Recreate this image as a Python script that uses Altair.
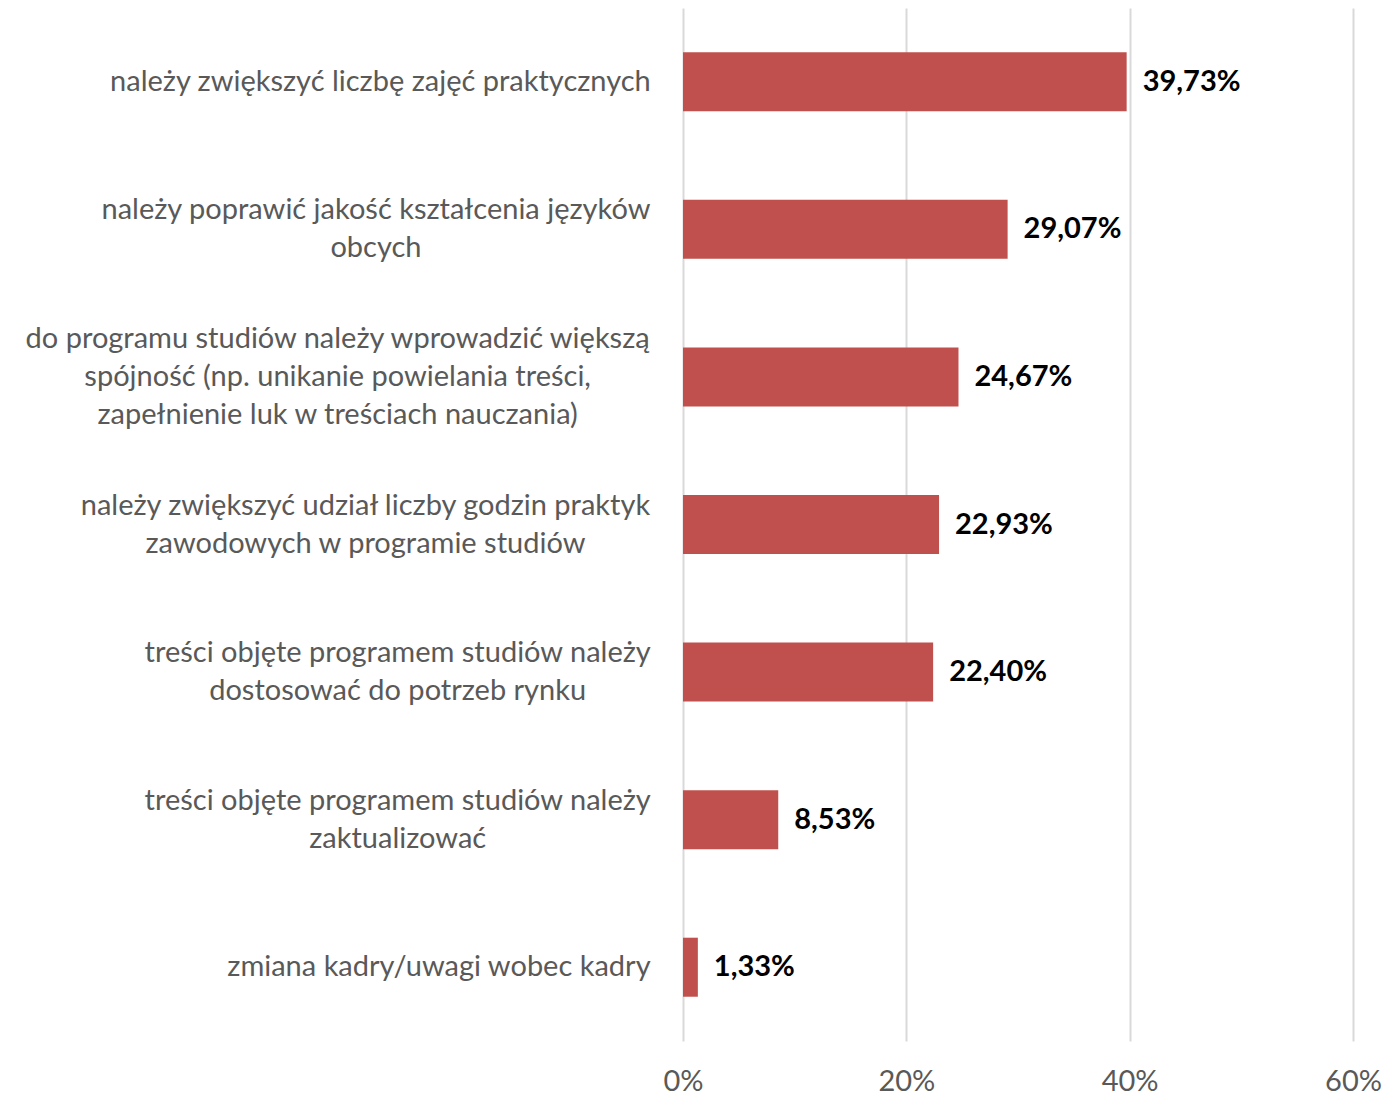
import altair as alt
import pandas as pd
import glob
import os
import struct

categories = [
    "należy zwiększyć liczbę zajęć praktycznych",
    "należy poprawić jakość kształcenia języków|obcych",
    "do programu studiów należy wprowadzić większą|spójność (np. unikanie powielania treści,|zapełnienie luk w treściach nauczania)",
    "należy zwiększyć udział liczby godzin praktyk|zawodowych w programie studiów",
    "treści objęte programem studiów należy|dostosować do potrzeb rynku",
    "treści objęte programem studiów należy|zaktualizować",
    "zmiana kadry/uwagi wobec kadry",
]
values = [39.73, 29.07, 24.67, 22.93, 22.40, 8.53, 1.33]
x_ticks = [0, 20, 40, 60]

FONT = "Lato"
FS = 29
LH = 38
GRAY = "#595959"
LABEL_PAD = 31


# ---- minimal font-metric reader, used to centre multi-line labels ----
def find_font_file():
    roots = ["/usr/share/fonts", "/usr/local/share/fonts",
             os.path.expanduser("~/.fonts"), os.path.expanduser("~/.local/share/fonts")]
    for root in roots:
        for p in glob.glob(root + "/**/*", recursive=True):
            b = os.path.basename(p)
            if b.lower() in ("lato-regular.ttf", "lato-regular.otf"):
                return p
    return None


def make_measure(path):
    data = open(path, "rb").read()
    off = struct.unpack(">I", data[12:16])[0] if data[:4] == b"ttcf" else 0
    ntab = struct.unpack(">H", data[off + 4:off + 6])[0]
    tables = {}
    for i in range(ntab):
        rec = off + 12 + 16 * i
        tag = data[rec:rec + 4].decode("latin1")
        _, toff, tlen = struct.unpack(">III", data[rec + 4:rec + 16])
        tables[tag] = toff
    head = tables["head"]
    upem = struct.unpack(">H", data[head + 18:head + 20])[0]
    hhea = tables["hhea"]
    nhm = struct.unpack(">H", data[hhea + 34:hhea + 36])[0]
    hm = tables["hmtx"]
    adv = [struct.unpack(">H", data[hm + 4 * i:hm + 4 * i + 2])[0] for i in range(nhm)]
    cm = tables["cmap"]
    nsub = struct.unpack(">H", data[cm + 2:cm + 4])[0]
    sub = None
    for i in range(nsub):
        pid, eid, soff = struct.unpack(">HHI", data[cm + 4 + 8 * i:cm + 12 + 8 * i])
        fmt = struct.unpack(">H", data[cm + soff:cm + soff + 2])[0]
        if fmt == 4 and pid in (0, 3):
            sub = cm + soff
            break
    segx2 = struct.unpack(">H", data[sub + 6:sub + 8])[0]
    seg = segx2 // 2
    ends = struct.unpack(">%dH" % seg, data[sub + 14:sub + 14 + segx2])
    so = sub + 16 + segx2
    starts = struct.unpack(">%dH" % seg, data[so:so + segx2])
    do = so + segx2
    deltas = struct.unpack(">%dh" % seg, data[do:do + segx2])
    ro = do + segx2
    ros = struct.unpack(">%dH" % seg, data[ro:ro + segx2])

    def glyph(c):
        for k in range(seg):
            if ends[k] >= c:
                if starts[k] > c:
                    return 0
                if ros[k] == 0:
                    return (c + deltas[k]) & 0xFFFF
                a = ro + 2 * k + ros[k] + 2 * (c - starts[k])
                g = struct.unpack(">H", data[a:a + 2])[0]
                return (g + deltas[k]) & 0xFFFF if g else 0
        return 0

    def width(s, size):
        tot = 0
        for ch in s:
            g = glyph(ord(ch))
            tot += adv[g] if g < nhm else adv[-1]
        return tot * size / upem

    return width


measure = None
try:
    fp = find_font_file()
    if fp:
        measure = make_measure(fp)
except Exception:
    measure = None

df = pd.DataFrame({"cat": categories, "val": values})
df["lbl"] = [f"{v:.2f}".replace(".", ",") + "%" for v in values]

y_enc = alt.Y(
    "cat:N",
    sort=categories,
    title=None,
    scale=alt.Scale(paddingInner=0.6, paddingOuter=0.3),
    axis=alt.Axis(labels=False, ticks=False, domain=False, grid=False),
)
x_enc = alt.X(
    "val:Q",
    title=None,
    scale=alt.Scale(domain=[0, 60], nice=False),
    axis=alt.Axis(
        values=x_ticks,
        labelExpr="datum.value + '%'",
        labelFont=FONT,
        labelFontSize=FS,
        labelColor=GRAY,
        labelPadding=26,
        labelFlush=False,
        ticks=False,
        domain=False,
        grid=True,
        gridColor="#D9D9D9",
        gridWidth=2,
    ),
)

bars = alt.Chart(df).mark_bar(color="#C0504D").encode(y=y_enc, x=x_enc)
values_text = alt.Chart(df).mark_text(
    align="left", baseline="middle", dx=16, font=FONT, fontSize=FS,
    fontWeight="bold", color="#000000"
).encode(y=alt.Y("cat:N", sort=categories), x="val:Q", text="lbl:N")

label_layers = []
for i, cat in enumerate(categories):
    lines = cat.split("|")
    n = len(lines)
    if measure is not None:
        maxw = max(measure(l, FS) for l in lines)
        align, dx = "center", -maxw / 2
    else:
        align, dx = "right", 0
    label_layers.append(
        alt.Chart(df).transform_filter(alt.datum.cat == cat).mark_text(
            align=align, baseline="middle", font=FONT, fontSize=FS,
            color=GRAY, lineBreak="|", lineHeight=LH,
            dy=-(n - 1) * LH / 2, dx=dx
        ).encode(
            y=alt.Y("cat:N", sort=categories),
            x=alt.value(-LABEL_PAD),
            text="cat:N",
        )
    )

chart = alt.layer(bars, values_text, *label_layers).properties(
    width=670,
    height=1033,
    autosize=alt.AutoSizeParams(type="none"),
    padding={"left": 675, "top": 0, "right": 30, "bottom": 60},
).configure_view(stroke=None)

chart.save("out.html", embed_options={"renderer": "svg", "actions": False})
